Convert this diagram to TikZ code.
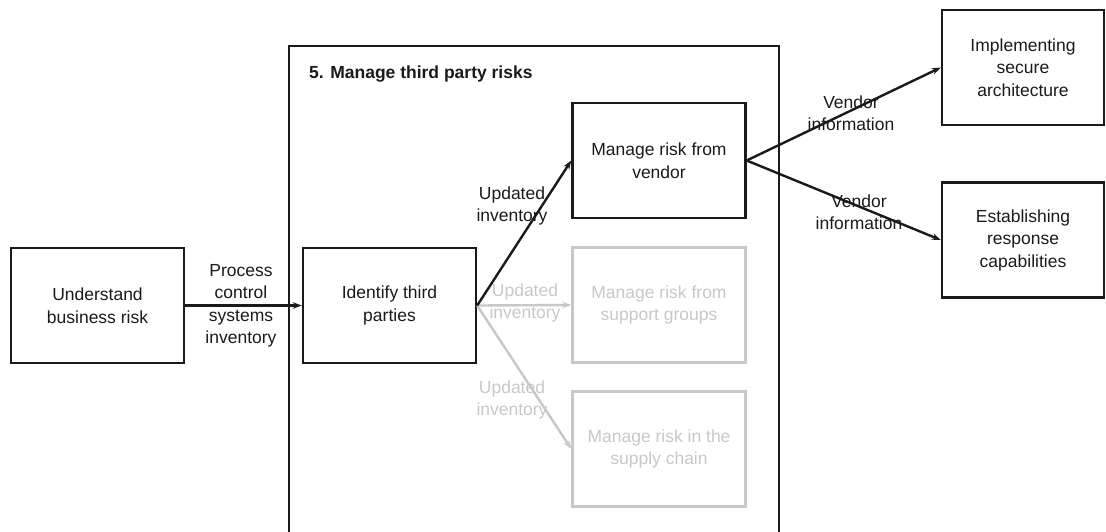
\documentclass[tikz,border=0pt]{standalone}
\usepackage{fontspec}
\setmainfont{Liberation Sans}
\usetikzlibrary{arrows.meta}
\definecolor{faded}{RGB}{200,200,200}
\definecolor{ink}{RGB}{26,26,26}
\tikzset{
  box/.style={draw=ink, line width=2.4pt, rectangle, minimum width=173pt, minimum height=115pt, align=center, inner sep=0pt, text=ink},
  fadedbox/.style={box, draw=faded, text=faded},
  lbl/.style={align=center, inner sep=0pt, text=ink},
  fadedlbl/.style={lbl, text=faded},
  flow/.style={draw=ink, line width=2.4pt, -{Stealth[length=9pt,width=6.5pt]}},
  fadedflow/.style={flow, draw=faded, -{Stealth[length=9pt,width=6.5pt,fill=faded]}},
  every node/.style={font=\fontsize{17.5}{22.5}\selectfont}
}
\begin{document}
\begin{tikzpicture}[x=1pt,y=-1pt]
\path[use as bounding box] (0,0) rectangle (1106,531);
\draw[ink, line width=2.4pt] (289,532) -- (289,46) -- (779,46) -- (779,532);
\node[anchor=west, font=\bfseries\fontsize{17.5}{22.5}\selectfont, inner sep=0pt, text=ink] (title) at (309,74) {5. Manage third party risks};

\node[box] (understand) at (97.5,305.5) {Understand\\business risk};
\node[box] (identify) at (389.5,305.5) {Identify third\\parties};
\node[box] (vendor) at (659,160.5) {Manage risk from\\vendor};
\node[fadedbox] (support) at (659,305) {Manage risk from\\support groups};
\node[fadedbox] (supply) at (659,449) {Manage risk in the\\supply chain};
\node[box, minimum width=162pt] (impl) at (1023,67.5) {Implementing\\secure\\architecture};
\node[box, minimum width=162pt] (estab) at (1023,240) {Establishing\\response\\capabilities};

\draw[flow] (understand.east) -- (identify.west);
\node[lbl] (pcsi) at (241,306) {Process\\control\\systems\\inventory};

\draw[fadedflow] (identify.east) -- (support.west);
\draw[fadedflow] (identify.east) -- (supply.west);
\draw[flow] (identify.east) -- (vendor.west);
\node[lbl] (upd1) at (512,206) {Updated\\inventory};
\node[fadedlbl] (upd2) at (525,303) {Updated\\inventory};
\node[fadedlbl] (upd3) at (512,400) {Updated\\inventory};

\draw[flow] (vendor.east) -- (impl.west);
\draw[flow] (vendor.east) -- (estab.west);
\node[lbl] (vi1) at (851,113) {Vendor\\information};
\node[lbl] (vi2) at (859,212) {Vendor\\information};
\end{tikzpicture}
\end{document}
